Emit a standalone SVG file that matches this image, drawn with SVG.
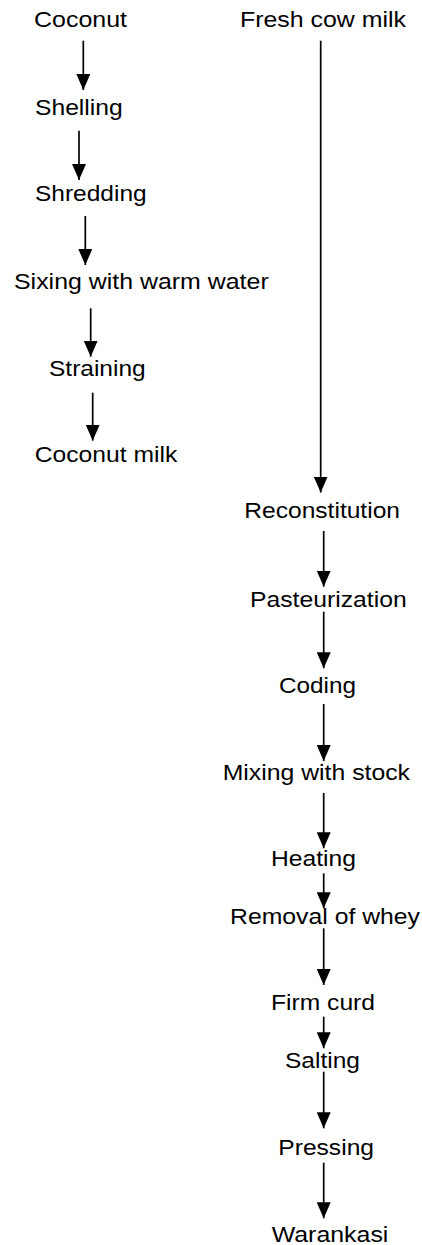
<svg xmlns="http://www.w3.org/2000/svg" width="422" height="1245" viewBox="0 0 422 1245">
<style>
text{font-family:"Liberation Sans",Arial,sans-serif;font-size:22.5px;fill:#000}
.c line{stroke:#000;stroke-width:1.7;marker-end:url(#ah)}
</style>
<defs>
<marker id="ah" markerUnits="userSpaceOnUse" viewBox="0 0 16 14" refX="16" refY="7" markerWidth="16" markerHeight="14" orient="auto">
<path d="M0,0 L16,7 L0,14 z" fill="#000"/>
</marker>
</defs>
<rect width="422" height="1245" fill="#fff"/>
<g class="c" id="connectors">
<line x1="83.3" y1="40.7" x2="83.3" y2="90"/>
<line x1="79" y1="130.7" x2="79" y2="180"/>
<line x1="85.3" y1="216" x2="85.3" y2="265"/>
<line x1="90.7" y1="308.3" x2="90.7" y2="356.7"/>
<line x1="92.7" y1="392.7" x2="92.7" y2="440.7"/>
<line x1="320.7" y1="40.7" x2="320.7" y2="492.5"/>
<line x1="323.7" y1="531" x2="323.7" y2="586.7"/>
<line x1="323.7" y1="611.7" x2="323.7" y2="668.3"/>
<line x1="323.7" y1="704" x2="323.7" y2="761"/>
<line x1="323.7" y1="793" x2="323.7" y2="848.3"/>
<line x1="323.7" y1="873.3" x2="323.7" y2="908.3"/>
<line x1="323.7" y1="928.3" x2="323.7" y2="985"/>
<line x1="323.7" y1="1016.7" x2="323.7" y2="1048.3"/>
<line x1="323.7" y1="1071.7" x2="323.7" y2="1128.3"/>
<line x1="323.7" y1="1162.7" x2="323.7" y2="1218.3"/>
</g>
<g id="n-coconut"><text x="34" y="27.3" textLength="93" lengthAdjust="spacingAndGlyphs">Coconut</text></g>
<g id="n-shelling"><text x="35" y="114.5" textLength="87.7" lengthAdjust="spacingAndGlyphs">Shelling</text></g>
<g id="n-shredding"><text x="35" y="201" textLength="111.7" lengthAdjust="spacingAndGlyphs">Shredding</text></g>
<g id="n-sixing"><text x="14" y="289.3" textLength="254.7" lengthAdjust="spacingAndGlyphs">Sixing with warm water</text></g>
<g id="n-straining"><text x="49" y="375.7" textLength="96.7" lengthAdjust="spacingAndGlyphs">Straining</text></g>
<g id="n-coconutmilk"><text x="34.7" y="461.7" textLength="142.6" lengthAdjust="spacingAndGlyphs">Coconut milk</text></g>
<g id="n-fresh"><text x="240" y="27.3" textLength="166" lengthAdjust="spacingAndGlyphs">Fresh cow milk</text></g>
<g id="n-recon"><text x="244.3" y="518.3" textLength="155.7" lengthAdjust="spacingAndGlyphs">Reconstitution</text></g>
<g id="n-past"><text x="250" y="606.7" textLength="156.7" lengthAdjust="spacingAndGlyphs">Pasteurization</text></g>
<g id="n-coding"><text x="279" y="693.3" textLength="77" lengthAdjust="spacingAndGlyphs">Coding</text></g>
<g id="n-mixing"><text x="222.7" y="780" textLength="187.3" lengthAdjust="spacingAndGlyphs">Mixing with stock</text></g>
<g id="n-heating"><text x="271" y="866" textLength="85" lengthAdjust="spacingAndGlyphs">Heating</text></g>
<g id="n-removal"><text x="230" y="924.3" textLength="190" lengthAdjust="spacingAndGlyphs">Removal of whey</text></g>
<g id="n-firm"><text x="271" y="1010" textLength="104" lengthAdjust="spacingAndGlyphs">Firm curd</text></g>
<g id="n-salting"><text x="285" y="1067.7" textLength="75" lengthAdjust="spacingAndGlyphs">Salting</text></g>
<g id="n-pressing"><text x="278.3" y="1155" textLength="95.7" lengthAdjust="spacingAndGlyphs">Pressing</text></g>
<g id="n-warankasi"><text x="271.7" y="1242" textLength="116.7" lengthAdjust="spacingAndGlyphs">Warankasi</text></g>
</svg>
